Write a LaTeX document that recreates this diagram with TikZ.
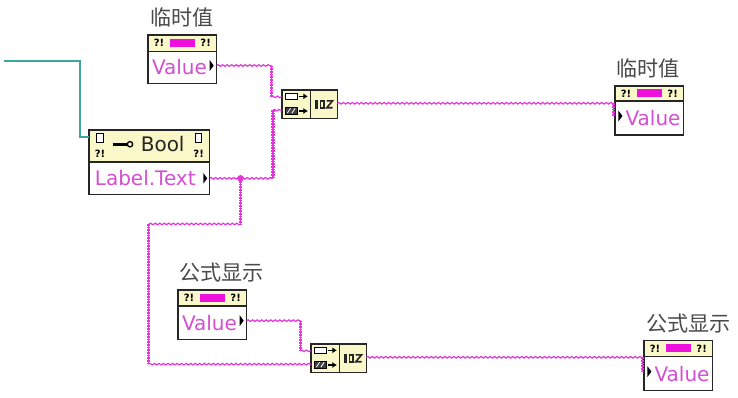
\documentclass[tikz,border=0pt]{standalone}
\usepackage{fontspec}
\setmainfont{DejaVu Sans}
\newfontfamily\cjk{Noto Sans CJK SC}
\usetikzlibrary{decorations.pathmorphing,arrows.meta}
\definecolor{hdr}{HTML}{FAF7C8}
\definecolor{wirepink}{HTML}{E236D8}
\definecolor{txtpink}{HTML}{D44FD2}
\definecolor{teal2}{HTML}{3FA5A0}
\definecolor{lab}{HTML}{4A4A4A}
\definecolor{barpink}{HTML}{EE10DC}
\tikzset{
  x=0.75pt,y=-0.75pt,
  boxa/.style={draw=black!85,line width=1.1pt,fill=white,inner sep=0pt,outer sep=0pt},
  headfill/.style={draw=black!85,line width=1.1pt,fill=hdr,inner sep=0pt,outer sep=0pt},
  strw/.style={font=\fontsize{15}{17}\selectfont,text=txtpink,inner sep=0pt},
  captxt/.style={font=\cjk\fontsize{15.8}{18}\selectfont,text=lab,inner sep=0pt},
  warn/.style={font=\bfseries\fontsize{7.5}{8}\selectfont,text=black,inner sep=0pt},
  hwire/.style={draw=wirepink,line width=0.9pt,decorate,decoration={snake,segment length=3.4pt,amplitude=0.6pt}},
  vwire/.style={draw=wirepink,line width=2.6pt,dash pattern=on 1.3pt off 0.7pt,preaction={draw=wirepink,solid,line width=1.1pt}},
  twire/.style={draw=teal2,line width=0.85pt},
  tri/.style={fill=black,draw=none},
}
\newcommand{\valnode}[8]{% name, x, y, output side (1 right, 0 left), caption, head height, body height, caption shift
  \node[headfill,minimum width=51.5pt,minimum height=#6,anchor=north west] (#1h) at (#2,#3) {};
  \node[boxa,minimum width=51.5pt,minimum height=#7,anchor=north west] (#1b) at (#1h.south west) {};
  \node[captxt,anchor=south] (#1c) at ([shift={(#8,5.5pt)}]#1h.north) {#5};
  \node[warn] (#1w) at ([xshift=-17.5pt]#1h.center) {?!};
  \node[warn] (#1v) at ([xshift=17.5pt]#1h.center) {?!};
  \node[fill=barpink,minimum width=19pt,minimum height=6pt,inner sep=0pt] (#1m) at (#1h.center) {};
  \ifnum#4=1
    \node[strw,anchor=west] (#1t) at ([xshift=2.8pt]#1b.west) {Value};
    \fill[tri] ([shift={(-2.2pt,1.5pt)}]#1b.east) -- ++(-3pt,4pt) -- ++(0,-8pt) -- cycle;
    \coordinate (#1p) at ([yshift=1.5pt]#1b.east);
  \else
    \node[strw,anchor=east] (#1t) at ([xshift=-2.2pt]#1b.east) {Value};
    \fill[tri] ([shift={(5.6pt,1.5pt)}]#1b.west) -- ++(-3pt,4pt) -- ++(0,-8pt) -- cycle;
    \coordinate (#1p) at ([shift={(-1.2pt,1.5pt)}]#1b.west);
  \fi
}
\newcommand{\concat}[3]{% name, x, y
  \node[headfill,minimum width=21.5pt,minimum height=21.5pt,anchor=north west] (#1l) at (#2,#3) {};
  \node[headfill,minimum width=20pt,minimum height=21.5pt,anchor=north west] (#1r) at (#1l.north east) {};
  \coordinate (#1a) at ([yshift=5.6pt]#1l.west);
  \coordinate (#1bb) at ([yshift=-4.4pt]#1l.west);
  \coordinate (#1o) at ([yshift=0.8pt]#1r.east);
  \draw[black,line width=0.7pt,fill=white] ([shift={(2.4pt,3.4pt)}]#1l.west) rectangle ++(9pt,5pt);
  \draw[black,line width=0.7pt,fill=black!75] ([shift={(2.4pt,-7.3pt)}]#1l.west) rectangle ++(9pt,5pt);
  \draw[white,line width=0.6pt] ([shift={(4pt,-6.6pt)}]#1l.west) -- ++(2.4pt,3.6pt) ([shift={(7.4pt,-6.6pt)}]#1l.west) -- ++(2.4pt,3.6pt);
  \draw[black,line width=1.1pt,-{Latex[length=3.4pt,width=4.6pt]}] ([shift={(12.4pt,6pt)}]#1l.west) -- ++(7pt,0);
  \draw[black,line width=1.1pt,-{Latex[length=3.4pt,width=4.6pt]}] ([shift={(12.4pt,-5pt)}]#1l.west) -- ++(7pt,0);
  \fill[black!85] ([shift={(-6.6pt,-3.2pt)}]#1r.center) rectangle ++(2pt,6.4pt);
  \draw[black!85,line width=1.2pt] ([shift={(-2.6pt,-2.6pt)}]#1r.center) rectangle ++(2.6pt,5.2pt);
  \draw[black!85,line width=1.2pt] ([shift={(2pt,2.6pt)}]#1r.center) -- ++(4.4pt,0) -- ++(-4.4pt,-5.2pt) -- ++(4.4pt,0);
}
\begin{document}
\begin{tikzpicture}
\useasboundingbox (0,0) rectangle (738,398);
\fill[white] (0,0) rectangle (738,398);

% nodes
\valnode{v1}{148}{35}{1}{临时值}{12.4pt}{24pt}{0pt}
\valnode{v2}{178}{290}{1}{公式显示}{12pt}{25pt}{7pt}
\valnode{r1}{615}{86}{0}{临时值}{11.2pt}{25.6pt}{-1pt}
\valnode{r2}{644}{340.5}{0}{公式显示}{12pt}{25.6pt}{7.5pt}
\concat{c1}{282}{90}
\concat{c2}{311}{344}

% Bool node
\node[headfill,minimum width=90.5pt,minimum height=24pt,anchor=north west] (bh) at (89,130) {};
\node[boxa,minimum width=90.5pt,minimum height=24.5pt,anchor=north west] (bb) at (bh.south west) {};
\node[strw,anchor=west] (bt) at ([xshift=4.2pt]bb.west) {Label.Text};
\fill[tri] ([xshift=-1.8pt]bb.east) -- ++(-3pt,4pt) -- ++(0,-8pt) -- cycle;
\coordinate (bp) at (bb.east);
\node[inner sep=0pt,font=\fontsize{15}{17}\selectfont,text=black!85] (bl) at ([shift={(10pt,1.3pt)}]bh.center) {Bool};
\draw[black,line width=2pt] ([shift={(-27pt,1.3pt)}]bh.center) -- ++(10pt,0);
\draw[black,line width=1pt] ([shift={(-14.5pt,1.3pt)}]bh.center) circle (2pt);
\node[warn] (bw1) at ([shift={(-37pt,-6pt)}]bh.center) {?!};
\node[warn] (bw2) at ([shift={(37pt,-6pt)}]bh.center) {?!};
\foreach \s in {-37pt,37pt}{
  \draw[black,line width=0.7pt,fill=white] ([shift={(\s,2.4pt)}]bh.center) ++(-2.4pt,0) rectangle ++(4.8pt,7pt);
}

% named elbows
\coordinate (tealstart) at (4,61);
\coordinate (tealx) at (80,137);
\coordinate (tealend) at (89,137);
\coordinate (x1) at (271.5,0);
\coordinate (x2) at (273,0);
\coordinate (x3) at (300.5,0);
\coordinate (x4) at (613.5,0);
\coordinate (x5) at (642.5,0);
\coordinate (j1) at (bp -| 240.5,0);
\coordinate (b1) at (240.5,224);
\coordinate (b2) at (148.5,224);
\coordinate (b3) at (b2 |- c2bb);

% wires
\draw[twire] (tealstart) -| (tealx) -- (tealend);
\draw[hwire] (v1p) -- (v1p -| x1);
\draw[vwire] (v1p -| x1) -- (c1a -| x1);
\draw[hwire] (c1a -| x1) -- (c1a);
\draw[hwire] (bp) -- (bp -| x2);
\draw[vwire] (bp -| x2) -- (c1bb -| x2);
\draw[hwire] (c1bb -| x2) -- (c1bb);
\draw[hwire] (c1o) -- (c1o -| x4);
\draw[vwire] (c1o -| x4) -- (r1p -| x4);
\draw[vwire] (j1) -- (b1);
\draw[hwire] (b1) -- (b2);
\draw[vwire] (b2) -- (b3);
\draw[hwire] (b3) -- (c2bb);
\draw[fill=wirepink,draw=wirepink] (j1) circle (2.2pt);
\draw[hwire] (v2p) -- (v2p -| x3);
\draw[vwire] (v2p -| x3) -- (c2a -| x3);
\draw[hwire] (c2a -| x3) -- (c2a);
\draw[hwire] (c2o) -- (c2o -| x5);
\draw[vwire] (c2o -| x5) -- (r2p -| x5);
\end{tikzpicture}
\end{document}
